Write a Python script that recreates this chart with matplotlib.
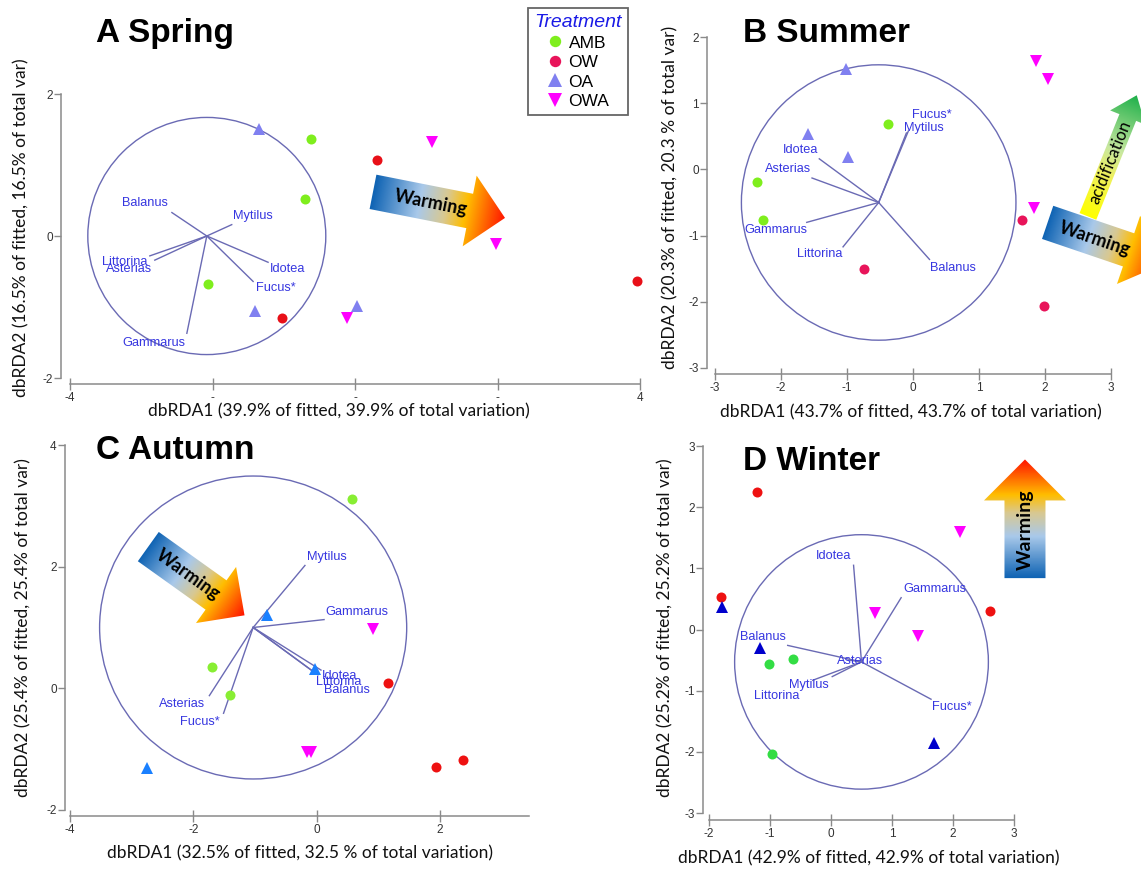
import numpy as np
import matplotlib
matplotlib.use('Agg')
import matplotlib.pyplot as plt
from matplotlib.patches import Polygon, Circle
from matplotlib.lines import Line2D
from matplotlib.colors import LinearSegmentedColormap

plt.rcParams['axes.unicode_minus'] = False

# ------------------------------------------------------------------ data
treatments = ['AMB', 'OW', 'OA', 'OWA']

# Spring (A)
spring_x = {'AMB': [-0.62, -0.70, -2.06], 'OW': [0.31, 3.96, -1.02],
            'OA': [-1.35, -1.40, 0.03], 'OWA': [1.08, 1.98, -0.11]}
spring_y = {'AMB': [1.36, 0.52, -0.68], 'OW': [1.07, -0.64, -1.16],
            'OA': [1.51, -1.05, -0.98], 'OWA': [1.33, -0.11, -1.16]}
spring_species = ['Balanus', 'Mytilus', 'Littorina', 'Asterias', 'Idotea', 'Fucus*', 'Gammarus']
spring_vec_x = [-2.57, -1.73, -2.88, -2.81, -1.22, -1.43, -2.36]
spring_vec_y = [0.33, 0.16, -0.28, -0.34, -0.37, -0.64, -1.37]
spring_origin = (-2.08, 0.0)
spring_radius = 1.67

# Summer (B)
summer_x = {'AMB': [-0.38, -2.37, -2.28], 'OW': [-0.75, 1.65, 1.98],
            'OA': [-1.02, -1.59, -0.98], 'OWA': [1.86, 2.05, 1.84]}
summer_y = {'AMB': [0.69, -0.19, -0.76], 'OW': [-1.50, -0.76, -2.06],
            'OA': [1.51, 0.53, 0.19], 'OWA': [1.63, 1.36, -0.59]}
summer_species = ['Idotea', 'Asterias', 'Gammarus', 'Littorina', 'Balanus', 'Fucus*', 'Mytilus']
summer_vec_x = [-1.42, -1.53, -1.61, -1.06, 0.25, -0.07, -0.10]
summer_vec_y = [0.16, -0.13, -0.80, -1.17, -1.36, 0.58, 0.55]
summer_origin = (-0.52, -0.50)
summer_radius = 2.08

# Autumn (C)
autumn_x = {'AMB': [0.57, -1.70, -1.41], 'OW': [1.15, 1.93, 2.37],
            'OA': [-0.80, -0.02, -2.75], 'OWA': [0.92, -0.15, -0.09]}
autumn_y = {'AMB': [3.12, 0.35, -0.11], 'OW': [0.08, -1.30, -1.18],
            'OA': [1.21, 0.32, -1.31], 'OWA': [0.98, -1.05, -1.05]}
autumn_species = ['Mytilus', 'Gammarus', 'Idotea', 'Littorina', 'Balanus', 'Asterias', 'Fucus*']
autumn_vec_x = [-0.19, 0.12, 0.07, -0.02, 0.02, -1.74, -1.51]
autumn_vec_y = [2.02, 1.13, 0.30, 0.25, 0.22, -0.12, -0.41]
autumn_origin = (-1.03, 1.0)
autumn_radius = 2.49

# Winter (D)
winter_x = {'AMB': [-0.63, -1.02, -0.97], 'OW': [-1.21, -1.81, 2.60],
            'OA': [-1.79, -1.16, 1.69], 'OWA': [2.12, 0.72, 1.42]}
winter_y = {'AMB': [-0.48, -0.57, -2.03], 'OW': [2.25, 0.53, 0.31],
            'OA': [0.36, -0.30, -1.86], 'OWA': [1.60, 0.27, -0.11]}
winter_species = ['Idotea', 'Gammarus', 'Balanus', 'Asterias', 'Mytilus', 'Littorina', 'Fucus*']
winter_vec_x = [0.37, 1.15, -0.71, 0.30, 0.02, -0.30, 1.64]
winter_vec_y = [1.05, 0.52, -0.26, -0.50, -0.77, -0.83, -1.14]
winter_origin = (0.50, -0.53)
winter_radius = 2.08

# ------------------------------------------------------------------ layout / style
W, H = 1141, 869
fig = plt.figure(figsize=(W / 100, H / 100), dpi=100)

def px2fig(x, y):
    return x / W, 1 - y / H

markers = {'AMB': 'o', 'OW': 'o', 'OA': '^', 'OWA': 'v'}
msize = {'AMB': 7.2, 'OW': 7.2, 'OA': 8.5, 'OWA': 8.5}
legend_colors = {'AMB': '#7fee1d', 'OW': '#e8145a', 'OA': '#8080f0', 'OWA': '#ff00ff'}
panel_colors = [
    {'AMB': '#7fee1d', 'OW': '#e81018', 'OA': '#8080f0', 'OWA': '#ff00ff'},
    {'AMB': '#7fee1d', 'OW': '#e8145a', 'OA': '#8080f0', 'OWA': '#ff00ff'},
    {'AMB': '#88ee33', 'OW': '#ee1111', 'OA': '#1a80ff', 'OWA': '#ff00ff'},
    {'AMB': '#33dd44', 'OW': '#ee1111', 'OA': '#0000cc', 'OWA': '#ff00ff'},
]
VEC_C = '#6a6ab4'
LAB_C = '#3636e0'
AXIS_C = '#8a8a8a'
LABEL_FONT = 'Lato'
SANS = 'Liberation Sans'

panels = [
    dict(pos=(70, 94, 640, 378), xlim=(-4, 4), ylim=(-2, 2),
         xticks=[-4, -2, 0, 2, 4], xticklabels=['-4', '-', '-', '-', '4'],
         yticks=[-2, 0, 2], xbounds=(-4, 4), off=(9, 6),
         title='A Spring', title_xy=(96, 42),
         xlabel='dbRDA1 (39.9% of fitted, 39.9% of total variation)', xlab_xy=(339, 411),
         ylabel='dbRDA2 (16.5% of fitted, 16.5% of total var)', ylab_xy=(21, 228),
         px=spring_x, py=spring_y, species=spring_species, vx=spring_vec_x, vy=spring_vec_y,
         origin=spring_origin, radius=spring_radius,
         labpos=[(-2.95, 0.47), (-1.43, 0.28), (-3.23, -0.37), (-3.17, -0.46),
                 (-0.94, -0.47), (-1.11, -0.73), (-2.82, -1.50)]),
    dict(pos=(715, 37, 1111, 368), xlim=(-3, 3), ylim=(-3, 2),
         xticks=[-3, -2, -1, 0, 1, 2, 3], xticklabels=None,
         yticks=[-3, -2, -1, 0, 1, 2], xbounds=(-3, 3), off=(8, 6),
         title='B Summer', title_xy=(743, 42),
         xlabel='dbRDA1 (43.7% of fitted, 43.7% of total variation)', xlab_xy=(911, 412),
         ylabel='dbRDA2 (20.3% of fitted, 20.3 % of total var)', ylab_xy=(670, 197),
         px=summer_x, py=summer_y, species=summer_species, vx=summer_vec_x, vy=summer_vec_y,
         origin=summer_origin, radius=summer_radius,
         labpos=[(-1.71, 0.29), (-1.90, 0.0), (-2.08, -0.91), (-1.41, -1.28),
                 (0.60, -1.49), (0.29, 0.82), (0.16, 0.62)]),
    dict(pos=(70, 445, 440, 810), xlim=(-4, 2), ylim=(-2, 4),
         xticks=[-4, -2, 0, 2], xticklabels=None,
         yticks=[-2, 0, 2, 4], xbounds=(-4, 3.44), off=(5, 6),
         title='C Autumn', title_xy=(96, 459),
         xlabel='dbRDA1 (32.5% of fitted, 32.5 % of total variation)', xlab_xy=(300, 853),
         ylabel='dbRDA2 (25.4% of fitted, 25.4% of total var)', ylab_xy=(23, 628),
         px=autumn_x, py=autumn_y, species=autumn_species, vx=autumn_vec_x, vy=autumn_vec_y,
         origin=autumn_origin, radius=autumn_radius,
         labpos=[(0.16, 2.16), (0.65, 1.26), (0.37, 0.21), (0.36, 0.11),
                 (0.49, -0.03), (-2.18, -0.26), (-1.89, -0.56)]),
    dict(pos=(709, 446, 1014, 813), xlim=(-2, 3), ylim=(-3, 3),
         xticks=[-2, -1, 0, 1, 2, 3], xticklabels=None,
         yticks=[-3, -2, -1, 0, 1, 2, 3], xbounds=(-2, 3), off=(6, 7),
         title='D Winter', title_xy=(743, 470),
         xlabel='dbRDA1 (42.9% of fitted, 42.9% of total variation)', xlab_xy=(869, 858),
         ylabel='dbRDA2 (25.2% of fitted, 25.2% of total var)', ylab_xy=(665, 628),
         px=winter_x, py=winter_y, species=winter_species, vx=winter_vec_x, vy=winter_vec_y,
         origin=winter_origin, radius=winter_radius,
         labpos=[(0.04, 1.20), (1.70, 0.66), (-1.12, -0.12), (0.48, -0.51),
                 (-0.36, -0.90), (-0.89, -1.08), (1.98, -1.27)]),
]

axes = []
for i, p in enumerate(panels):
    x0, y0, x1, y1 = p['pos']
    ax = fig.add_axes([x0 / W, 1 - y1 / H, (x1 - x0) / W, (y1 - y0) / H])
    ax.set_xlim(*p['xlim'])
    ax.set_ylim(*p['ylim'])
    ax.patch.set_visible(False)
    for s in ['top', 'right']:
        ax.spines[s].set_visible(False)
    ax.spines['left'].set_position(('outward', p['off'][0] * 0.72))
    ax.spines['bottom'].set_position(('outward', p['off'][1] * 0.72))
    ax.spines['left'].set_bounds(p['ylim'][0], p['ylim'][1])
    ax.spines['bottom'].set_bounds(*p['xbounds'])
    for s in ['left', 'bottom']:
        ax.spines[s].set_color(AXIS_C)
        ax.spines[s].set_linewidth(1.1)
    ax.set_xticks(p['xticks'])
    if p['xticklabels'] is not None:
        ax.set_xticklabels(p['xticklabels'])
    ax.set_yticks(p['yticks'])
    ax.tick_params(axis='x', direction='inout', length=9, width=1, color=AXIS_C,
                   labelsize=8.5, labelcolor='#333333', pad=1)
    ax.tick_params(axis='y', direction='out', length=5, width=1, color=AXIS_C,
                   labelsize=8.5, labelcolor='#333333', pad=1)
    for lab in ax.get_xticklabels() + ax.get_yticklabels():
        lab.set_fontfamily(SANS)

    # circle
    ox, oy = p['origin']
    ax.add_patch(Circle((ox, oy), p['radius'], fill=False, edgecolor=VEC_C, lw=1.0,
                        clip_on=False, zorder=2))
    # vectors
    for sp, vx, vy, (lx, ly) in zip(p['species'], p['vx'], p['vy'], p['labpos']):
        ax.plot([ox, vx], [oy, vy], color=VEC_C, lw=1.0, clip_on=False, zorder=2)
        ax.text(lx, ly, sp, color=LAB_C, fontsize=9.2, family=SANS, ha='center', va='center',
                zorder=4, clip_on=False)
    # points
    cols = panel_colors[i]
    for t in treatments:
        ax.plot(p['px'][t], p['py'][t], linestyle='none', marker=markers[t],
                markersize=msize[t], color=cols[t], markeredgewidth=0,
                clip_on=False, zorder=3)
    # labels
    ax.set_xlabel(p['xlabel'], fontsize=12.5, family=LABEL_FONT, color='#111111',
                  ha='center', va='center')
    ax.xaxis.set_label_coords(*px2fig(*p['xlab_xy']), transform=fig.transFigure)
    ax.set_ylabel(p['ylabel'], fontsize=12.5, family=LABEL_FONT, color='#111111',
                  ha='center', va='center', rotation=90)
    ax.yaxis.set_label_coords(*px2fig(*p['ylab_xy']), transform=fig.transFigure)
    fig.text(*px2fig(*p['title_xy']), p['title'], fontsize=24, fontweight='bold',
             family=SANS, ha='left', va='baseline')
    axes.append(ax)

# ------------------------------------------------------------------ gradient arrows
ov = fig.add_axes([0, 0, 1, 1])
ov.axis('off')
ov.set_autoscale_on(False)
ov.set_xlim(0, W)
ov.set_ylim(0, H)

warm_cmap = LinearSegmentedColormap.from_list(
    'warm', [(0.0, '#1064b4'), (0.35, '#a9c9ea'), (0.55, '#d9c890'),
             (0.7, '#ffbe00'), (1.0, '#ff1400')])
acid_cmap = LinearSegmentedColormap.from_list(
    'acid', [(0.0, '#ffff00'), (0.35, '#eef060'), (0.55, '#c8e8a0'), (1.0, '#1eb04a')])


def grad_arrow(ax, tail, tip, shaft_w, head_w, head_len, cmap, text, text_frac,
               fontsize, weight, z):
    T = np.array(ax.transData.transform(tail), dtype=float)
    P = np.array(ax.transData.transform(tip), dtype=float)
    d = P - T
    L = np.hypot(*d)
    u = d / L
    n = np.array([-u[1], u[0]])
    neck = P - u * head_len
    pts = np.array([T + n * shaft_w / 2, neck + n * shaft_w / 2, neck + n * head_w / 2, P,
                    neck - n * head_w / 2, neck - n * shaft_w / 2, T - n * shaft_w / 2])
    poly = Polygon(pts, closed=True, facecolor='none', edgecolor='none', zorder=z)
    ov.add_patch(poly)
    xa, xb = pts[:, 0].min() - 2, pts[:, 0].max() + 2
    ya, yb = pts[:, 1].min() - 2, pts[:, 1].max() + 2
    gx, gy = np.meshgrid(np.linspace(xa, xb, int(xb - xa) + 2),
                         np.linspace(ya, yb, int(yb - ya) + 2))
    tt = ((gx - T[0]) * u[0] + (gy - T[1]) * u[1]) / L
    img = cmap(np.clip(tt, 0, 1))
    im = ov.imshow(img, extent=(xa, xb, ya, yb), origin='lower', aspect='auto',
                   interpolation='bilinear', zorder=z)
    im.set_clip_path(poly)
    c = T + u * L * text_frac
    ang = np.degrees(np.arctan2(u[1], u[0]))
    ov.text(c[0], c[1], text, rotation=ang, rotation_mode='anchor', ha='center',
            va='center', fontsize=fontsize, fontweight=weight, family=LABEL_FONT,
            color='black', zorder=z + 0.5)


axA, axB, axC, axD = axes
grad_arrow(axA, (-4 + 303 / 71.25, (236 - 192) / 70.75), (-4 + 435 / 71.25, (236 - 218) / 70.75),
           35, 72, 36, warm_cmap, 'Warming', 0.44, 13, 'bold', 10)
grad_arrow(axB, (2.65, -0.71), (3.39, 1.12), 18, 38, 24, acid_cmap, 'acidification', 0.45,
           12, 'normal', 10)
grad_arrow(axB, (2.04, -0.80), (3.84, -1.41), 35, 72, 40, warm_cmap, 'Warming', 0.40,
           13, 'bold', 11)
grad_arrow(axC, (-2.73, 2.33), (-1.17, 1.20), 36, 69, 35, warm_cmap, 'Warming', 0.41,
           13, 'bold', 10)
grad_arrow(axD, (3.18, 0.84), (3.18, 2.78), 41, 82, 41, warm_cmap, 'Warming', 0.41,
           14, 'bold', 10)
ov.set_xlim(0, W)
ov.set_ylim(0, H)

# ------------------------------------------------------------------ legend
handles = [Line2D([], [], linestyle='none', marker=markers[t], markersize=msize[t] + 1.0,
                  color=legend_colors[t], markeredgewidth=0) for t in treatments]
leg = fig.legend(handles, treatments, loc='upper left', bbox_to_anchor=px2fig(528, 8),
                 frameon=True, fancybox=False, edgecolor='#666666', framealpha=1,
                 title='Treatment', handletextpad=0.3, borderpad=0.35, labelspacing=0.25,
                 handlelength=1.0, borderaxespad=0,
                 prop={'family': SANS, 'size': 12.5},
                 title_fontproperties={'family': SANS, 'style': 'italic', 'size': 14})
leg.get_title().set_color('#1a1ae6')
leg.get_frame().set_linewidth(1.3)

fig.savefig('out.png', dpi=100)
